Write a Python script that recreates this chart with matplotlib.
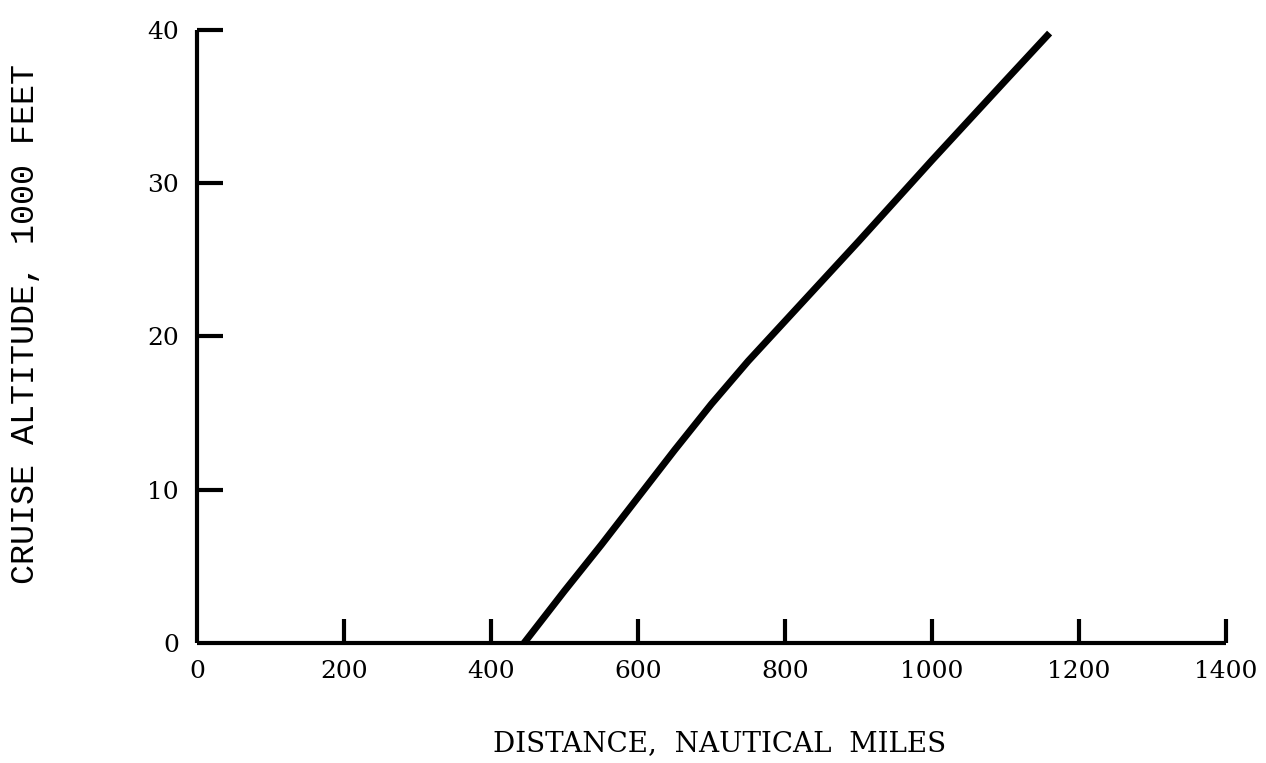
import matplotlib
matplotlib.use("Agg")
import matplotlib.pyplot as plt

# Data
distance_nm = [445, 500, 550, 600, 650, 700, 750, 800, 900, 1000, 1100, 1160]
altitude_kft = [0, 3.4, 6.4, 9.5, 12.6, 15.6, 18.4, 21.0, 26.2, 31.5, 36.7, 39.8]

x_ticks = [0, 200, 400, 600, 800, 1000, 1200, 1400]
y_ticks = [0, 10, 20, 30, 40]
x_label = "DISTANCE,  NAUTICAL  MILES"
y_label = "CRUISE ALTITUDE, 1000 FEET"

fig = plt.figure(figsize=(12.66, 7.63), dpi=100)
ax = fig.add_axes([0.1556, 0.1573, 0.8128, 0.8034])

ax.plot(distance_nm, altitude_kft, color="black", linewidth=5,
        solid_capstyle="butt", clip_on=False)

ax.set_xlim(0, 1400)
ax.set_ylim(0, 40)
for s in ("top", "right"):
    ax.spines[s].set_visible(False)
for s in ("left", "bottom"):
    ax.spines[s].set_linewidth(3)
    ax.spines[s].set_capstyle("butt")

ax.set_xticks(x_ticks)
ax.set_yticks(y_ticks)
ax.set_xticklabels([str(v) for v in x_ticks])
ax.set_yticklabels([str(v) for v in y_ticks])
ax.tick_params(axis="both", direction="in", width=3, colors="black",
               labelsize=18)
ax.tick_params(axis="x", length=17, pad=12)
ax.tick_params(axis="y", length=19, pad=13)
ax.xaxis.get_major_ticks()[0].tick1line.set_visible(False)
ax.yaxis.get_major_ticks()[0].tick1line.set_visible(False)
for lab in ax.get_xticklabels() + ax.get_yticklabels():
    lab.set_family("DejaVu Serif")

fig.text(0.568, 0.026, x_label, ha="center", va="center",
         family="DejaVu Serif", fontsize=20)
fig.text(0.0205, 0.575, y_label, ha="center", va="center", rotation=90,
         family="Liberation Mono", fontsize=24)

fig.savefig("out.png", dpi=100, facecolor="white")
